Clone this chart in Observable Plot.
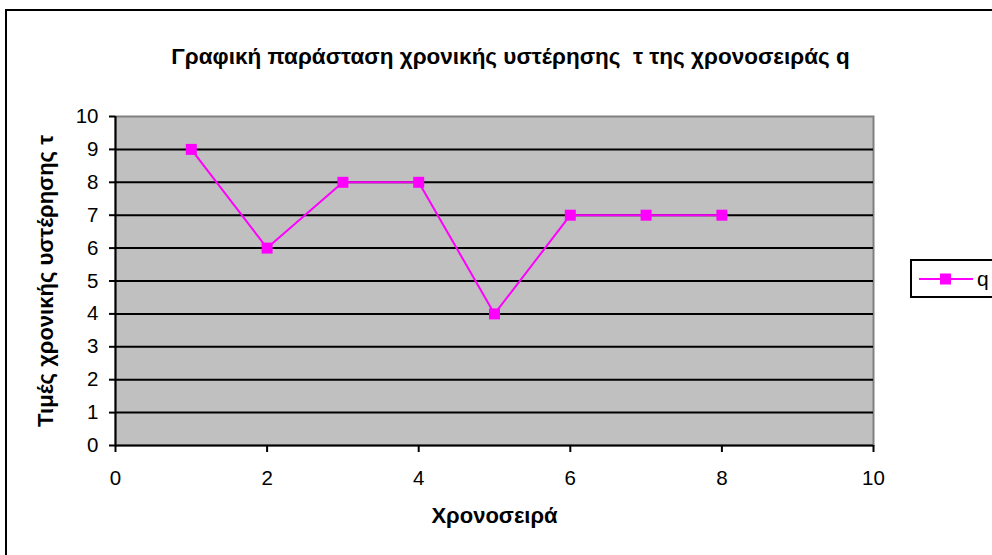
<!DOCTYPE html>
<html>
<head>
<meta charset="utf-8">
<script src="https://cdn.jsdelivr.net/npm/d3@7"></script>
<script src="https://cdn.jsdelivr.net/npm/@observablehq/plot@0.6"></script>
<style>
  html, body { margin: 0; padding: 0; background: #fff; overflow: hidden; width: 992px; height: 555px; }
  #wrap { position: relative; width: 992px; height: 555px; font-family: "Liberation Sans", Arial, sans-serif; overflow: hidden; }
  #border { position: absolute; left: 5px; top: 9px; width: 1200px; height: 800px; border-left: 2px solid #000; border-top: 2px solid #000; box-sizing: border-box; }
  #chart { position: absolute; left: 0; top: 0; }
  #legend { position: absolute; left: 910px; top: 259px; width: 120px; height: 39px; border: 2px solid #000; box-sizing: border-box; background: #fff; display: flex; align-items: center; }
  #legend span { font-size: 21px; margin-left: 3px; line-height: 1; }
</style>
</head>
<body>
<div id="wrap">
  <div id="border"></div>
  <div id="chart"></div>
  <div id="legend"></div>
</div>
<script>
const seriesName = "q";
const xValues = [1, 2, 3, 4, 5, 6, 7, 8];
const qValues = [9, 6, 8, 8, 4, 7, 7, 7];
const yTicks = [0, 1, 2, 3, 4, 5, 6, 7, 8, 9, 10];
const xTicks = [0, 2, 4, 6, 8, 10];
const gridValues = [1, 2, 3, 4, 5, 6, 7, 8, 9];
const title = "Γραφική παράσταση χρονικής υστέρησης  τ της χρονοσειράς q";
const xLabel = "Χρονοσειρά";
const yLabel = "Τιμές χρονικής υστέρησης τ";

const data = xValues.map((x, i) => ({x, y: qValues[i]}));
const magenta = "#FF00FF";

const plot = Plot.plot({
  width: 992,
  height: 555,
  marginLeft: 115,
  marginRight: 119,
  marginTop: 116,
  marginBottom: 110,
  style: {fontFamily: "'Liberation Sans', Arial, sans-serif", background: "transparent", overflow: "visible"},
  x: {domain: [0, 10]},
  y: {domain: [0, 10]},
  marks: [
    Plot.frame({fill: "#C0C0C0", stroke: "#808080", strokeWidth: 2}),
    Plot.ruleY(gridValues, {stroke: "#000", strokeWidth: 2}),
    Plot.ruleY([0], {stroke: "#000", strokeWidth: 2}),
    Plot.ruleX([0], {stroke: "#000", strokeWidth: 2}),
    Plot.axisY(yTicks, {tickSize: 6, tickPadding: 11, fontSize: 20.5, stroke: "#000", strokeWidth: 2, fill: "#000", label: null}),
    Plot.axisX(xTicks, {tickSize: 7, tickPadding: 18, fontSize: 20.5, stroke: "#000", strokeWidth: 2, fill: "#000", label: null}),
    Plot.line(data, {x: "x", y: "y", stroke: magenta, strokeWidth: 2}),
    Plot.dot(data, {x: "x", y: "y", symbol: "square", r: 6.2, fill: magenta, stroke: "none"}),
    Plot.text([title], {frameAnchor: "top", dx: 16, dy: -68, fontSize: 22.5, fontWeight: "bold", fill: "#000"}),
    Plot.text([xLabel], {frameAnchor: "bottom", dy: 77, fontSize: 22, fontWeight: "bold", fill: "#000"}),
    Plot.text([yLabel], {frameAnchor: "left", textAnchor: "middle", dx: -70, rotate: -90, fontSize: 22, fontWeight: "bold", fill: "#000"})
  ]
});
document.getElementById("chart").appendChild(plot);

// legend
const leg = document.getElementById("legend");
const ns = "http://www.w3.org/2000/svg";
const lsvg = document.createElementNS(ns, "svg");
lsvg.setAttribute("width", 55);
lsvg.setAttribute("height", 20);
lsvg.style.marginLeft = "7px";
const ln = document.createElementNS(ns, "line");
ln.setAttribute("x1", 0); ln.setAttribute("x2", 54); ln.setAttribute("y1", 10); ln.setAttribute("y2", 10);
ln.setAttribute("stroke", magenta); ln.setAttribute("stroke-width", 2);
lsvg.appendChild(ln);
const sq = document.createElementNS(ns, "rect");
sq.setAttribute("x", 21); sq.setAttribute("y", 4.5); sq.setAttribute("width", 11); sq.setAttribute("height", 11);
sq.setAttribute("fill", magenta);
lsvg.appendChild(sq);
leg.appendChild(lsvg);
const lt = document.createElement("span");
lt.textContent = seriesName;
leg.appendChild(lt);
</script>
</body>
</html>
